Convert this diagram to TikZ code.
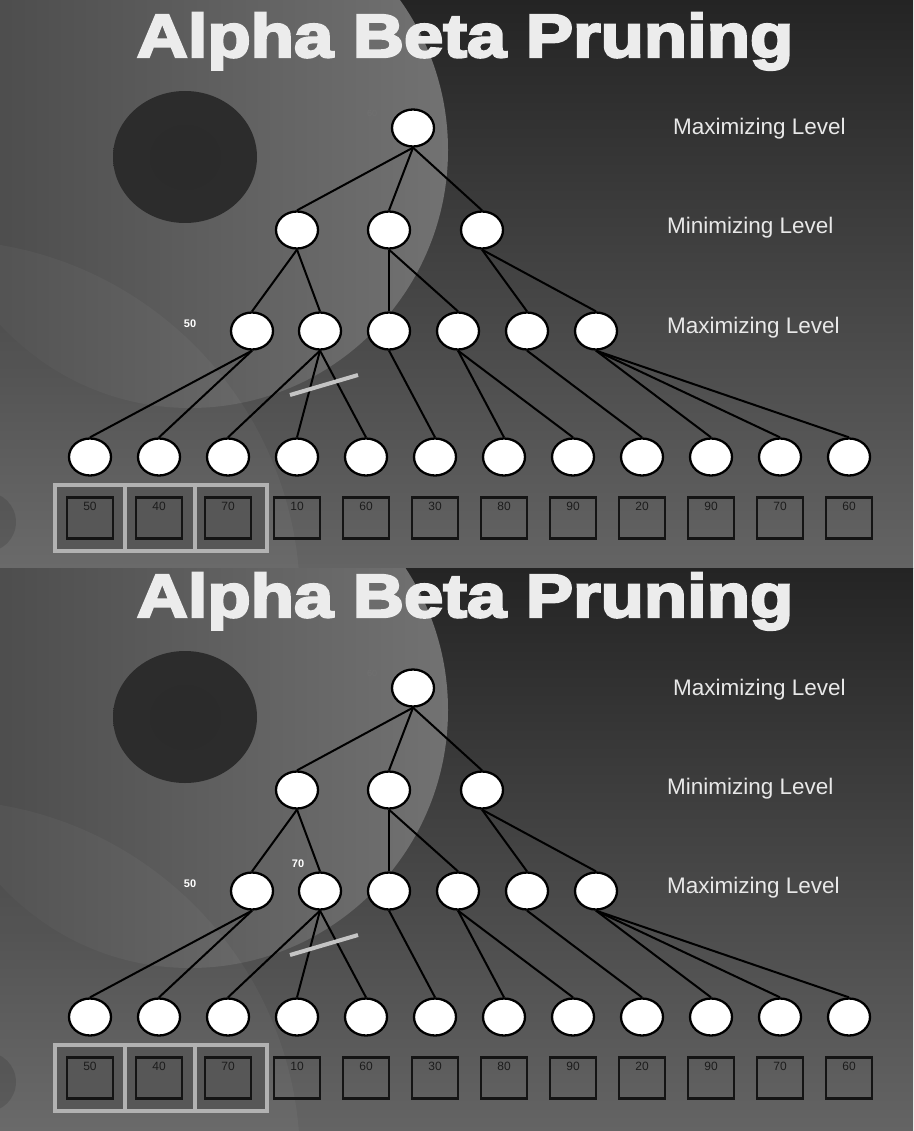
\documentclass[tikz,border=0pt]{standalone}
\usepackage{fontspec}
\setmainfont{Liberation Sans}
\newfontfamily\titlefont[FakeStretch=1.16,FakeBold=4]{Liberation Sans Bold}
\usetikzlibrary{shapes.geometric}
\definecolor{bgtop}{HTML}{242424}
\definecolor{bgmid}{HTML}{2E2E2E}
\definecolor{bgbot}{HTML}{646464}
\definecolor{discl}{HTML}{484848}
\definecolor{discm}{HTML}{303030}
\definecolor{discr}{HTML}{727272}
\definecolor{darkspot}{HTML}{2B2B2B}
\definecolor{titlecol}{HTML}{ECECEC}
\definecolor{lvlcol}{HTML}{E8E8E8}
\definecolor{numcol}{HTML}{1C1C1C}
\definecolor{boxline}{HTML}{141414}
\definecolor{framecol}{HTML}{B2B2B2}
\definecolor{cellfill}{HTML}{575757}
\definecolor{slashcol}{HTML}{C4C4C4}
\definecolor{faintnum}{HTML}{707070}
\tikzset{
  bubble/.style={ellipse, draw=black, fill=white, line width=2.3pt,
    minimum width=42pt, minimum height=37pt, inner sep=0pt},
  edge/.style={line width=2pt, draw=black},
  valbox/.style={draw=boxline, line width=2.4pt, minimum width=46pt,
    minimum height=41pt, inner sep=0pt},
  numtext/.style={font=\fontsize{12}{12}\selectfont, text=numcol, inner sep=0pt},
  levtext/.style={font=\fontsize{22.5}{22.5}\selectfont, text=lvlcol, anchor=base west, inner sep=0pt},
  titletext/.style={font=\titlefont\fontsize{61}{61}\selectfont, text=titlecol, anchor=base, inner sep=0pt},
  valnote/.style={font=\bfseries\fontsize{11}{11}\selectfont, text=white, inner sep=0pt},
  faintnote/.style={font=\fontsize{9}{9}\selectfont, text=faintnum, inner sep=0pt},
  slashline/.style={draw=slashcol, line width=4pt},
  hiframe/.style={draw=framecol, line width=4pt},
}
% #1 prefix, #2 vertical offset, #3 clip top, #4 clip bottom, #5 extra code
\newcommand\drawslide[5]{%
\begin{scope}[yshift=-#2pt]
  \begin{scope}
    \clip (0,#3) rectangle (913,#4);
    \shade[top color=bgtop, middle color=bgmid, bottom color=bgbot] (0,#3) rectangle (913,#4);
    \shade[left color=discl, middle color=discm, right color=discr] (190,150) circle (258);
    \shade[inner color=darkspot, outer color=darkspot!80!discm] (185,157) ellipse (72 and 66);
    \fill[white, opacity=0.04] (-60,600) circle (360);
    \fill[black, opacity=0.12] (-14,522) circle (30);
  \end{scope}
  \node[titletext] (#1title) at (465,57) {Alpha Beta Pruning};
  \node[levtext] (#1lv1) at (673,135) {Maximizing Level};
  \node[levtext] (#1lv2) at (667,234) {Minimizing Level};
  \node[levtext] (#1lv3) at (667,333) {Maximizing Level};
  % highlight frame behind first three boxes
  \fill[cellfill] (55,485) rectangle (267,551);
  \draw[hiframe] (55,485) rectangle (267,551);
  \draw[hiframe] (125,485) -- (125,551);
  \draw[hiframe] (195,485) -- (195,551);
  % nodes
  \node[bubble] (#1r) at (413,128) {};
  \node[bubble] (#1m1) at (297,230) {};
  \node[bubble] (#1m2) at (389,230) {};
  \node[bubble] (#1m3) at (482,230) {};
  \foreach \i/\x in {1/252,2/320,3/389,4/458,5/527,6/596}
    \node[bubble] (#1x\i) at (\x,331) {};
  \foreach \i in {1,...,12}
    \node[bubble] (#1l\i) at ({21+69*\i},457) {};
  \foreach \v [count=\i] in {50,40,70,10,60,30,80,90,20,90,70,60}
    \node[valbox, label={[numtext, anchor=north, yshift=-6pt]north:\v}] (#1b\i) at ({21+69*\i},518) {};
  % connectors
  \foreach \p/\c in {r/m1,r/m2,r/m3,m1/x1,m1/x2,m2/x3,m2/x4,m3/x5,m3/x6,
      x1/l1,x1/l2,x2/l3,x2/l4,x2/l5,x3/l6,x4/l7,x4/l8,x5/l9,x6/l10,x6/l11,x6/l12}
    \draw[edge] (#1\p.south) -- (#1\c.north);
  % cut mark
  \coordinate (#1cutA) at (290,395);
  \coordinate (#1cutB) at (358,375);
  \draw[slashline] (#1cutA) -- (#1cutB);
  % value notes
  \node[faintnote] (#1n60) at (372,113) {60};
  \node[valnote] (#1n50) at (190,324) {50};
  #5
\end{scope}}

\begin{document}
\begin{tikzpicture}[x=1pt, y=-1pt]
\useasboundingbox (0,0) rectangle (913,1131);
\fill[bgtop] (0,0) rectangle (913,1131);
\drawslide{a}{0}{0}{568}{}
\drawslide{b}{560}{8}{571}{\node[valnote] (bn70) at (298,304) {70};}
\end{tikzpicture}
\end{document}
